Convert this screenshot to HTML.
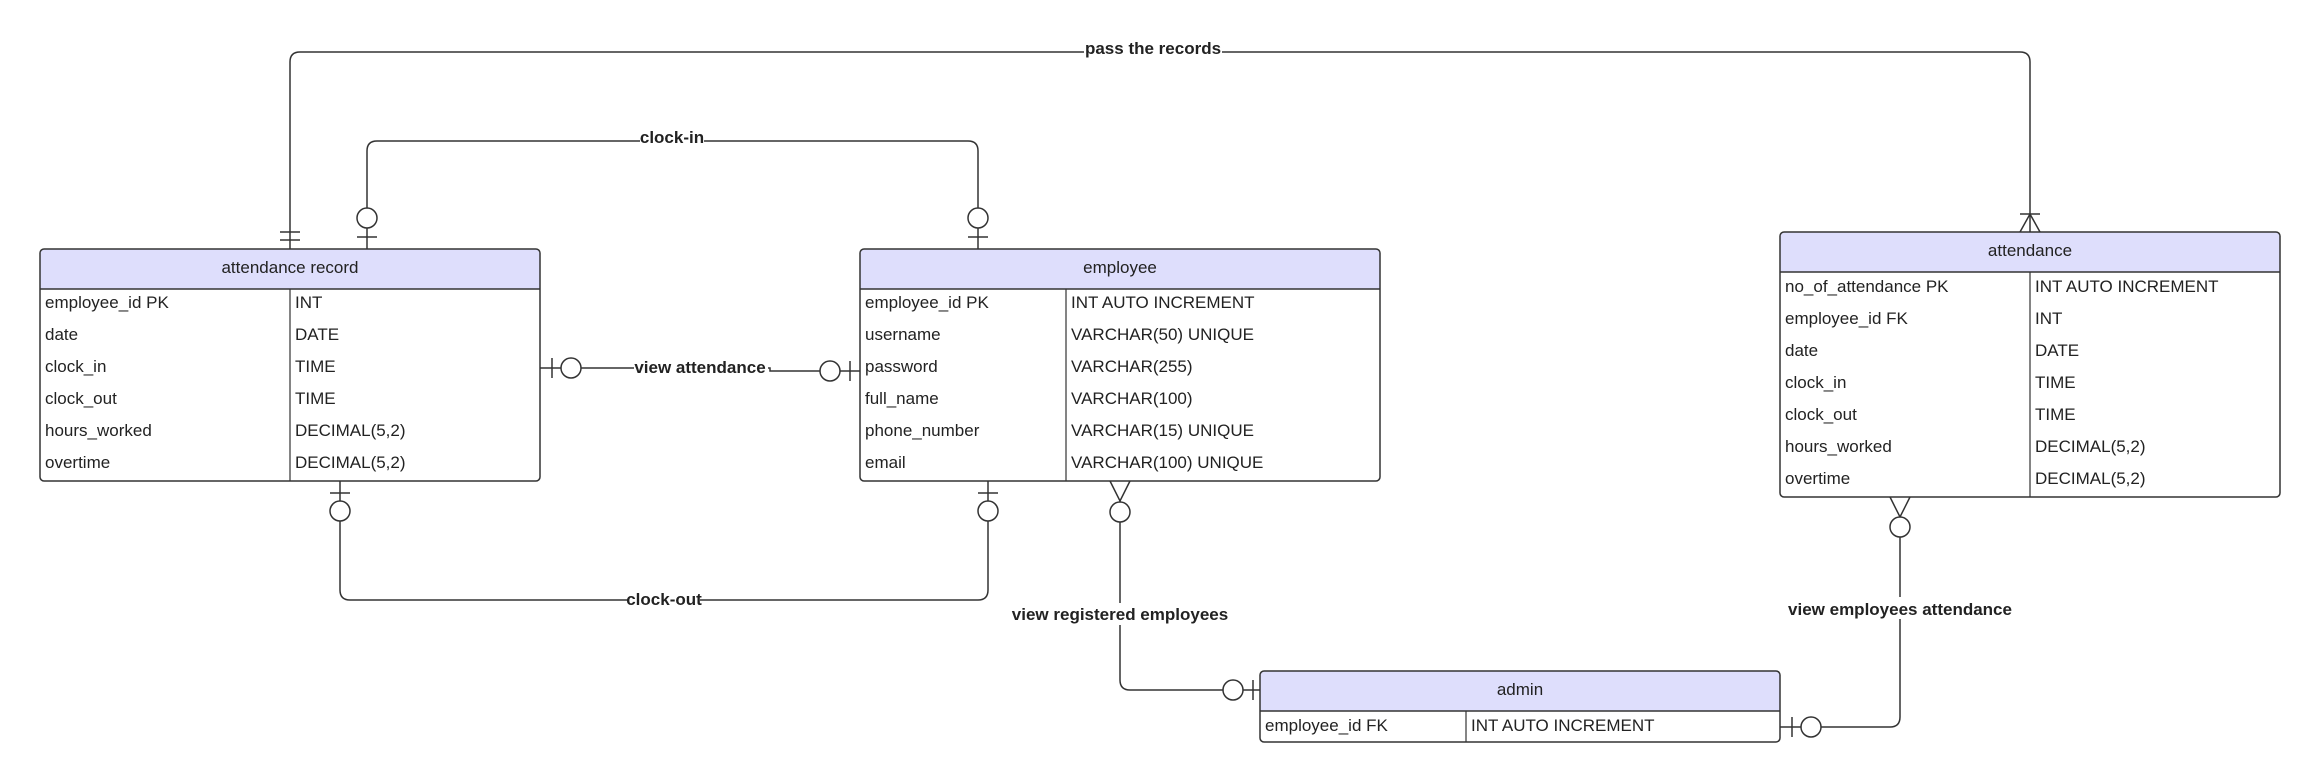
<!DOCTYPE html>
<html><head><meta charset="utf-8"><style>
html,body{margin:0;padding:0;background:#fff;}
svg{display:block;}
text{font-family:"Liberation Sans",Arial,sans-serif;fill:#222;}
.t{font-size:17px;}
.h{font-size:17px;}
.l{font-size:17px;font-weight:bold;}
</style></head><body>
<svg width="2320" height="783" viewBox="0 0 2320 783" xmlns="http://www.w3.org/2000/svg">
<g fill="none" stroke="#333" stroke-width="1.5">
<!-- pass the records -->
<path d="M290 249 V62 Q290 52 300 52 H2020 Q2030 52 2030 62 V232"/>
<line x1="280" y1="240" x2="300" y2="240"/><line x1="280" y1="232" x2="300" y2="232"/>
<line x1="2020" y1="214" x2="2040" y2="214"/>
<path d="M2020 232 L2030 214 L2040 232"/>
<!-- clock-in -->
<path d="M367 249 V151 Q367 141 377 141 H968 Q978 141 978 151 V249"/>
<line x1="357" y1="237" x2="377" y2="237"/><line x1="968" y1="237" x2="988" y2="237"/>
<!-- view attendance -->
<path d="M540 368 H561 M581 368 H770 V371 H820 M840 371 H860"/>
<line x1="552" y1="358" x2="552" y2="378"/><line x1="850" y1="361" x2="850" y2="381"/>
<!-- clock-out -->
<path d="M340 481 V590 Q340 600 350 600 H978 Q988 600 988 590 V481"/>
<line x1="330" y1="493" x2="350" y2="493"/><line x1="978" y1="493" x2="998" y2="493"/>
<!-- view registered employees -->
<path d="M1120 500 V680 Q1120 690 1130 690 H1223"/>
<path d="M1110 481 L1120 501 L1130 481"/>
<line x1="1253" y1="680" x2="1253" y2="700"/><line x1="1243" y1="690" x2="1260" y2="690"/>
<!-- view employees attendance -->
<path d="M1900 516 V717 Q1900 727 1890 727 H1821"/>
<path d="M1890 497 L1900 517 L1910 497"/>
<line x1="1792" y1="717" x2="1792" y2="737"/><line x1="1780" y1="727" x2="1801" y2="727"/>
</g>
<g fill="#fff" stroke="#333" stroke-width="1.5">
<circle cx="367" cy="218" r="10"/><circle cx="978" cy="218" r="10"/>
<circle cx="571" cy="368" r="10"/><circle cx="830" cy="371" r="10"/>
<circle cx="340" cy="511" r="10"/><circle cx="988" cy="511" r="10"/>
<circle cx="1120" cy="512" r="10"/><circle cx="1233" cy="690" r="10"/>
<circle cx="1900" cy="527" r="10"/><circle cx="1811" cy="727" r="10"/>
</g>
<!-- labels -->
<g text-anchor="middle" class="l">
<rect x="1084" y="40" width="138" height="22" fill="#fff"/>
<text x="1153" y="54" class="l">pass the records</text>
<rect x="640" y="130" width="64" height="22" fill="#fff"/>
<text x="672" y="143" class="l">clock-in</text>
<rect x="634" y="358" width="134" height="22" fill="#fff"/>
<text x="700" y="373" class="l">view attendance</text>
<rect x="628" y="589" width="72" height="22" fill="#fff"/>
<text x="664" y="605" class="l">clock-out</text>
<rect x="1008" y="603" width="224" height="22" fill="#fff"/>
<text x="1120" y="620" class="l">view registered employees</text>
<rect x="1784" y="597" width="232" height="22" fill="#fff"/>
<text x="1900" y="615" class="l">view employees attendance</text>
</g>
<!-- attendance record -->
<g>
<path d="M40 289 V253 Q40 249 44 249 H536 Q540 249 540 253 V289 Z" fill="#dedefc"/>
<rect x="40" y="249" width="500" height="232" rx="4" fill="none" stroke="#333" stroke-width="1.5"/>
<line x1="40" y1="289" x2="540" y2="289" stroke="#333" stroke-width="1.5"/>
<line x1="290" y1="289" x2="290" y2="481" stroke="#333" stroke-width="1.2"/>
<text x="290" y="273" text-anchor="middle" class="h">attendance record</text>
<g class="t">
<text x="45" y="308">employee_id PK</text><text x="295" y="308">INT</text>
<text x="45" y="340">date</text><text x="295" y="340">DATE</text>
<text x="45" y="372">clock_in</text><text x="295" y="372">TIME</text>
<text x="45" y="404">clock_out</text><text x="295" y="404">TIME</text>
<text x="45" y="436">hours_worked</text><text x="295" y="436">DECIMAL(5,2)</text>
<text x="45" y="468">overtime</text><text x="295" y="468">DECIMAL(5,2)</text>
</g></g>
<!-- employee -->
<g>
<path d="M860 289 V253 Q860 249 864 249 H1376 Q1380 249 1380 253 V289 Z" fill="#dedefc"/>
<rect x="860" y="249" width="520" height="232" rx="4" fill="none" stroke="#333" stroke-width="1.5"/>
<line x1="860" y1="289" x2="1380" y2="289" stroke="#333" stroke-width="1.5"/>
<line x1="1066" y1="289" x2="1066" y2="481" stroke="#333" stroke-width="1.2"/>
<text x="1120" y="273" text-anchor="middle" class="h">employee</text>
<g class="t">
<text x="865" y="308">employee_id PK</text><text x="1071" y="308">INT AUTO INCREMENT</text>
<text x="865" y="340">username</text><text x="1071" y="340">VARCHAR(50) UNIQUE</text>
<text x="865" y="372">password</text><text x="1071" y="372">VARCHAR(255)</text>
<text x="865" y="404">full_name</text><text x="1071" y="404">VARCHAR(100)</text>
<text x="865" y="436">phone_number</text><text x="1071" y="436">VARCHAR(15) UNIQUE</text>
<text x="865" y="468">email</text><text x="1071" y="468">VARCHAR(100) UNIQUE</text>
</g></g>
<!-- attendance -->
<g>
<path d="M1780 272 V236 Q1780 232 1784 232 H2276 Q2280 232 2280 236 V272 Z" fill="#dedefc"/>
<rect x="1780" y="232" width="500" height="265" rx="4" fill="none" stroke="#333" stroke-width="1.5"/>
<line x1="1780" y1="272" x2="2280" y2="272" stroke="#333" stroke-width="1.5"/>
<line x1="2030" y1="272" x2="2030" y2="497" stroke="#333" stroke-width="1.2"/>
<text x="2030" y="256" text-anchor="middle" class="h">attendance</text>
<g class="t">
<text x="1785" y="292">no_of_attendance PK</text><text x="2035" y="292">INT AUTO INCREMENT</text>
<text x="1785" y="324">employee_id FK</text><text x="2035" y="324">INT</text>
<text x="1785" y="356">date</text><text x="2035" y="356">DATE</text>
<text x="1785" y="388">clock_in</text><text x="2035" y="388">TIME</text>
<text x="1785" y="420">clock_out</text><text x="2035" y="420">TIME</text>
<text x="1785" y="452">hours_worked</text><text x="2035" y="452">DECIMAL(5,2)</text>
<text x="1785" y="484">overtime</text><text x="2035" y="484">DECIMAL(5,2)</text>
</g></g>
<!-- admin -->
<g>
<path d="M1260 711 V675 Q1260 671 1264 671 H1776 Q1780 671 1780 675 V711 Z" fill="#dedefc"/>
<rect x="1260" y="671" width="520" height="71" rx="4" fill="none" stroke="#333" stroke-width="1.5"/>
<line x1="1260" y1="711" x2="1780" y2="711" stroke="#333" stroke-width="1.5"/>
<line x1="1466" y1="711" x2="1466" y2="742" stroke="#333" stroke-width="1.2"/>
<text x="1520" y="695" text-anchor="middle" class="h">admin</text>
<g class="t">
<text x="1265" y="731">employee_id FK</text><text x="1471" y="731">INT AUTO INCREMENT</text>
</g></g>
</svg>
</body></html>
